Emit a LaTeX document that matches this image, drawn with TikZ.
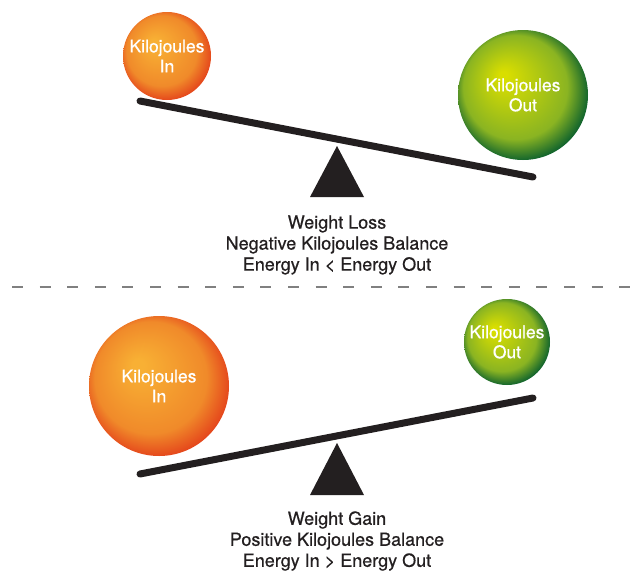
\documentclass[tikz,border=0pt]{standalone}
\usepackage{fontspec}
\setmainfont{TeX Gyre Heros}[FakeBold=0.6]
\usepackage{tikz}
\usetikzlibrary{positioning}

\definecolor{inkblack}{HTML}{231F20}
\definecolor{orangehi}{HTML}{F8B034}
\definecolor{orangemid}{HTML}{F08A2A}
\definecolor{orangelo}{HTML}{E4431B}
\definecolor{greenhi}{HTML}{D9DE00}
\definecolor{greenmid}{HTML}{8AB422}
\definecolor{greenlo}{HTML}{00592E}

% balls lit from the upper left
\pgfdeclareradialshading{orangeball}{\pgfpoint{-8bp}{8bp}}{color(0bp)=(orangehi); color(2bp)=(orangehi); color(20bp)=(orangemid); color(27bp)=(orangelo); color(32bp)=(orangelo)}
\pgfdeclareradialshading{greenball}{\pgfpoint{-8bp}{8bp}}{color(0bp)=(greenhi); color(1.5bp)=(greenhi); color(20bp)=(greenmid); color(27.5bp)=(greenlo); color(32bp)=(greenlo)}

\tikzset{
  ball/.style={circle, inner sep=0pt, text=white, align=center,
    font=\fontsize{17.5}{20}\selectfont},
  inball/.style={ball, shading=orangeball},
  outball/.style={ball, shading=greenball},
  beam/.style={line width=7pt, line cap=round, draw=inkblack},
  pivot/.style={fill=inkblack},
  caption/.style={align=center, text=inkblack,
    font=\fontsize{18}{21}\selectfont}
}

\begin{document}
\begin{tikzpicture}[x=1pt, y=-1pt]
  \useasboundingbox (0,0) rectangle (638,571);

  % ---------- top: weight loss ----------
  \coordinate (lossL) at (140,101);
  \coordinate (lossR) at (533,177);
  \coordinate (lossTop) at (337,146);
  \draw[beam] (lossL) -- (lossR);
  \fill[pivot] (lossTop) -- (310,197) -- (364,197) -- cycle;

  \node[inball, minimum size=88pt] (lossIn) at (167,56) {Kilojoules\\In};
  \node[outball, minimum size=130pt] (lossOut) at (523,95) {Kilojoules\\Out};

  \node[caption] (lossText) at (337,245)
    {Weight Loss\\Negative Kilojoules Balance\\Energy In < Energy Out};

  % Dashed separator
  \coordinate (sepL) at (12,287);
  \coordinate (sepR) at (632,287);
  \draw[gray, line width=1.5pt, dash pattern=on 11pt off 16.6pt] (sepL) -- (sepR);

  % ---------- bottom: weight gain ----------
  \coordinate (gainL) at (140,474);
  \coordinate (gainR) at (533,398);
  \coordinate (gainTop) at (337,443);
  \draw[beam] (gainL) -- (gainR);
  \fill[pivot] (gainTop) -- (310,495) -- (364,495) -- cycle;

  \node[inball, minimum size=140pt] (gainIn) at (159,386) {Kilojoules\\In};
  \node[outball, minimum size=86pt] (gainOut) at (507,342) {Kilojoules\\Out};

  \node[caption] (gainText) at (337,541)
    {Weight Gain\\Positive Kilojoules Balance\\Energy In > Energy Out};
\end{tikzpicture}
\end{document}
